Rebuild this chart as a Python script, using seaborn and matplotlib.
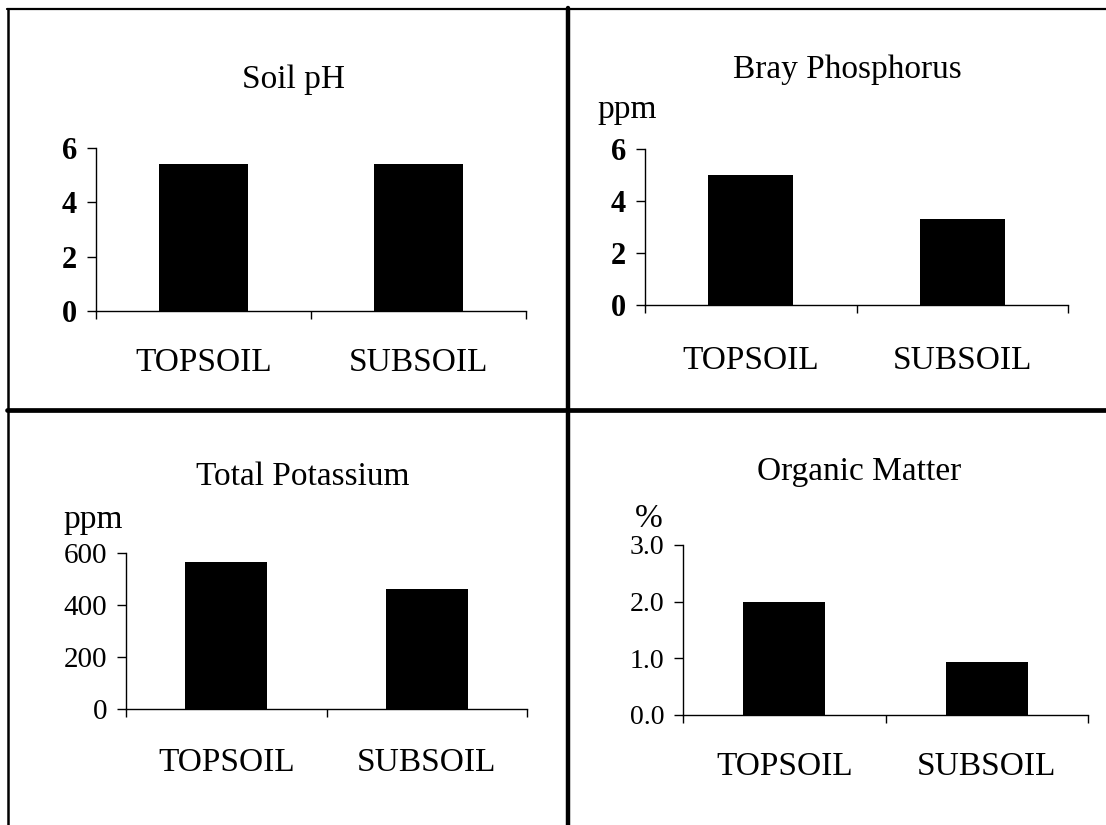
import matplotlib
matplotlib.use("Agg")
import matplotlib.pyplot as plt
from matplotlib.lines import Line2D
import seaborn as sns
import pandas as pd

# ---- data ----
categories = ["TOPSOIL", "SUBSOIL"]
soil_ph = [5.4, 5.4]
bray_phosphorus = [5.0, 3.3]
total_potassium = [565, 460]
organic_matter = [2.0, 0.93]

titles = ["Soil pH", "Bray Phosphorus", "Total Potassium", "Organic Matter"]
units = ["", "ppm", "ppm", "%"]
ytick_values = [[0, 2, 4, 6], [0, 2, 4, 6], [0, 200, 400, 600], [0.0, 1.0, 2.0, 3.0]]
ytick_labels = [["0", "2", "4", "6"], ["0", "2", "4", "6"],
                ["0", "200", "400", "600"], ["0.0", "1.0", "2.0", "3.0"]]
series = [soil_ph, bray_phosphorus, total_potassium, organic_matter]

sns.set_theme(style="white")
plt.rcParams['font.family'] = ['Liberation Serif', 'DejaVu Serif']
plt.rcParams['text.color'] = 'black'
plt.rcParams['xtick.color'] = 'black'
plt.rcParams['ytick.color'] = 'black'
plt.rcParams['xtick.labelcolor'] = 'black'
plt.rcParams['ytick.labelcolor'] = 'black'

W, H = 1106, 825
fig = plt.figure(figsize=(W / 100, H / 100), dpi=100)
fig.patch.set_facecolor("white")

# layout in pixels: left, right, top(ymax), bottom(0)
boxes = [(96, 526, 148, 311), (645, 1068, 149, 305),
         (126, 527, 553, 709), (683, 1088, 545, 715)]
bar_widths = [0.414, 0.40, 0.41, 0.405]
title_pos = [(293, 88), (847, 78), (303, 485), (859, 480)]
unit_pos = [None, (597, 118), (63, 528), (635, 527)]
ytick_weight = ["bold", "bold", "normal", "normal"]
ytick_size = [22, 22, 21, 20]
xlabel_pad = [26, 29, 28, 26]

for i in range(4):
    l, r, t, b = boxes[i]
    ax = fig.add_axes([l / W, 1 - b / H, (r - l) / W, (b - t) / H])
    df = pd.DataFrame({"layer": categories, "value": series[i]})
    sns.barplot(data=df, x="layer", y="value", color="black", saturation=1,
                width=bar_widths[i], ax=ax, edgecolor="none")
    ax.set_xlim(-0.5, 1.5)
    ax.set_ylim(ytick_values[i][0], ytick_values[i][-1])
    ax.set_facecolor("none")
    for s in ["top", "right"]:
        ax.spines[s].set_visible(False)
    for s in ["left", "bottom"]:
        ax.spines[s].set_color("black")
        ax.spines[s].set_linewidth(1.0)
    ax.set_xlabel("")
    ax.set_ylabel("")
    ax.set_xticks([0, 1])
    ax.set_xticklabels(categories, fontsize=24, color="black")
    ax.set_xticks([-0.5, 0.5, 1.5], minor=True)
    ax.tick_params(axis="x", which="major", length=0, pad=xlabel_pad[i])
    ax.tick_params(axis="x", which="minor", length=6, width=1.0, direction="out",
                   bottom=True, color="black")
    ax.set_yticks(ytick_values[i])
    ax.set_yticklabels(ytick_labels[i], fontsize=ytick_size[i],
                       fontweight=ytick_weight[i], color="black")
    ax.tick_params(axis="y", which="major", length=6.5, width=1.0, direction="out",
                   left=True, pad=7, color="black")
    tx, ty = title_pos[i]
    fig.text(tx / W, 1 - ty / H, titles[i], ha="center", va="baseline",
             fontsize=24, color="black")
    if unit_pos[i] is not None:
        ux, uy = unit_pos[i]
        fig.text(ux / W, 1 - uy / H, units[i], ha="left", va="baseline",
                 fontsize=24, color="black")

# panel frame lines
def hline(y, x0, x1, lw):
    fig.add_artist(Line2D([x0 / W, x1 / W], [1 - y / H, 1 - y / H],
                          transform=fig.transFigure, color="black", lw=lw))

def vline(x, y0, y1, lw):
    fig.add_artist(Line2D([x / W, x / W], [1 - y0 / H, 1 - y1 / H],
                          transform=fig.transFigure, color="black", lw=lw))

hline(9, 7, W, 1.6)
vline(8, 9, H, 1.8)
hline(410, 7, W, 3.4)
vline(568, 8, H, 3.2)

fig.savefig("out.png", dpi=100, facecolor="white")
